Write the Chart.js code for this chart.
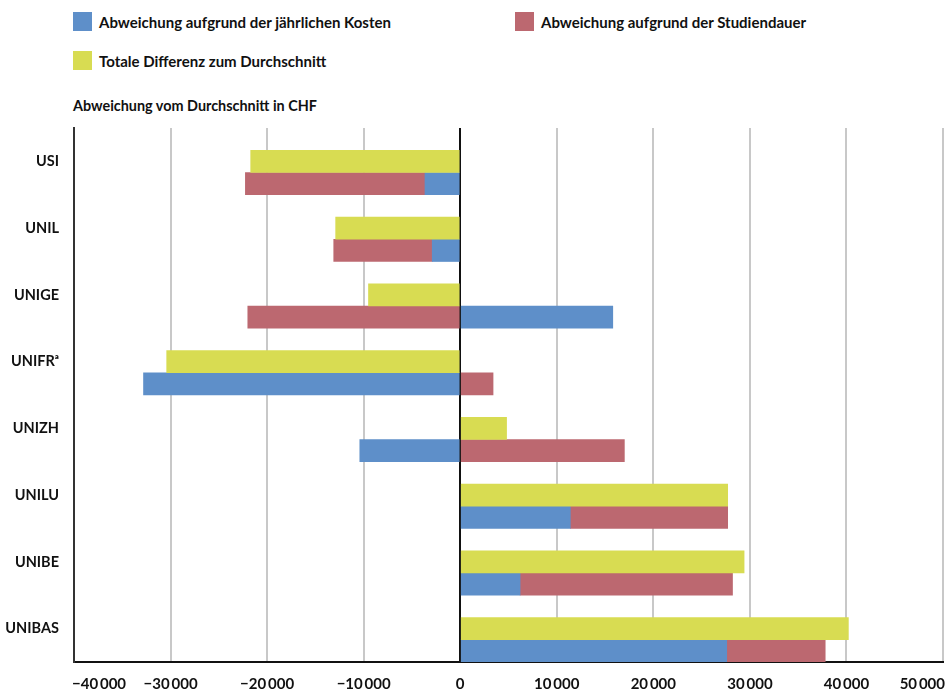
<!DOCTYPE html>
<html>
<head>
<meta charset="utf-8">
<script src="https://cdn.jsdelivr.net/npm/chart.js@4"></script>
<style>
  html,body{margin:0;padding:0;background:#fff}
  body{width:945px;height:691px;position:relative;overflow:hidden;
    font-family:Lato,"DejaVu Sans Condensed",sans-serif;font-weight:700;color:#111}
  .lg{position:absolute;display:flex;align-items:center;font-size:15px;white-space:nowrap}
  .lg i{display:inline-block;width:19px;height:19px;margin-right:7px}
  #axTitle{position:absolute;left:73px;top:97px;font-size:14.4px}
  #wrap{position:absolute;left:0;top:0;width:945px;height:691px}
</style>
</head>
<body>
<div class="lg" style="left:73px;top:12px"><i style="background:#5E8FC9"></i>Abweichung aufgrund der jährlichen Kosten</div>
<div class="lg" style="left:515px;top:12px"><i style="background:#BC6870"></i>Abweichung aufgrund der Studiendauer</div>
<div class="lg" style="left:73px;top:51px"><i style="background:#D8DC52"></i>Totale Differenz zum Durchschnitt</div>
<div id="axTitle">Abweichung vom Durchschnitt in CHF</div>
<div id="wrap"><canvas id="chart" width="945" height="691"></canvas></div>
<script>
const FONT = 'Lato,"DejaVu Sans Condensed",sans-serif';

const universities = ['USI','UNIL','UNIGE','UNIFR\u1D43','UNIZH','UNILU','UNIBE','UNIBAS'];
const costDiff     = [-3650, -2900, 15800, -32800, -10400, 11400,  6200, 27600];
const durationDiff = [-18600, -10200, -22000, 3400, 17000, 16300, 22000, 10200];
const totalDiff    = [-21700, -12900, -9500, -30400, 4800, 27700, 29400, 40200];
const xTicks       = [-40000,-30000,-20000,-10000,0,10000,20000,30000,40000,50000];
const X_MIN = xTicks[0], X_MAX = xTicks[xTicks.length-1];

const fmt = v => (v<0?'\u2212':'') + String(Math.abs(v)).replace(/\B(?=(\d{3})+(?!\d))/g,'\u2009');

// the two outer tick labels are kept inside the frame: first left-aligned, last right-aligned
const edgeTickLabels = {
  id:'edgeTickLabels',
  afterDraw(chart){
    const x = chart.scales.x, ctx = chart.ctx;
    ctx.save();
    ctx.font = `bold 15px ${FONT}`;
    ctx.fillStyle = '#111';
    ctx.textBaseline = 'middle';
    ctx.textAlign = 'left';
    ctx.fillText(fmt(X_MIN), x.getPixelForValue(X_MIN)-2, x.top+22);
    ctx.textAlign = 'right';
    ctx.fillText(fmt(X_MAX), x.getPixelForValue(X_MAX)+2, x.top+22);
    ctx.restore();
  }
};

new Chart(document.getElementById('chart'),{
  type:'bar',
  data:{labels:universities,datasets:[
    {label:'pad',data:universities.map(()=>null),stack:'pad'},
    {label:'Totale Differenz zum Durchschnitt',data:totalDiff,backgroundColor:'#D8DC52',stack:'total'},
    {label:'Abweichung aufgrund der jährlichen Kosten',data:costDiff,backgroundColor:'#5E8FC9',stack:'comp'},
    {label:'Abweichung aufgrund der Studiendauer',data:durationDiff,backgroundColor:'#BC6870',stack:'comp'}
  ]},
  options:{
    indexAxis:'y',responsive:false,animation:false,
    categoryPercentage:1,barPercentage:1,
    layout:{padding:{top:128,right:2,left:0,bottom:0}},
    plugins:{legend:{display:false},tooltip:{enabled:false}},
    scales:{
      x:{stacked:true,min:X_MIN,max:X_MAX,
        afterBuildTicks:s=>{s.ticks=xTicks.map(v=>({value:v}));},
        afterFit:s=>{s.height=29;s.paddingLeft=0;s.paddingRight=0;},
        grid:{drawTicks:false,lineWidth:2,color:c=>c.tick&&c.tick.value===0?'#111':'#c8c8c8'},
        border:{display:true,color:'#111',width:2},
        ticks:{padding:13,color:'#111',font:{family:FONT,size:15,weight:'bold'},
          callback:v=>(v===X_MAX||v===X_MIN)?'':fmt(v),maxRotation:0,autoSkip:false}
      },
      y:{stacked:true,
        afterFit:s=>{s.width=74;},
        grid:{display:false,drawTicks:false},
        border:{display:true,color:'#333',width:2},
        ticks:{padding:15,color:'#111',font:{family:FONT,size:14.5,weight:'bold'}}
      }
    }
  },
  plugins:[edgeTickLabels]
});
</script>
</body>
</html>
